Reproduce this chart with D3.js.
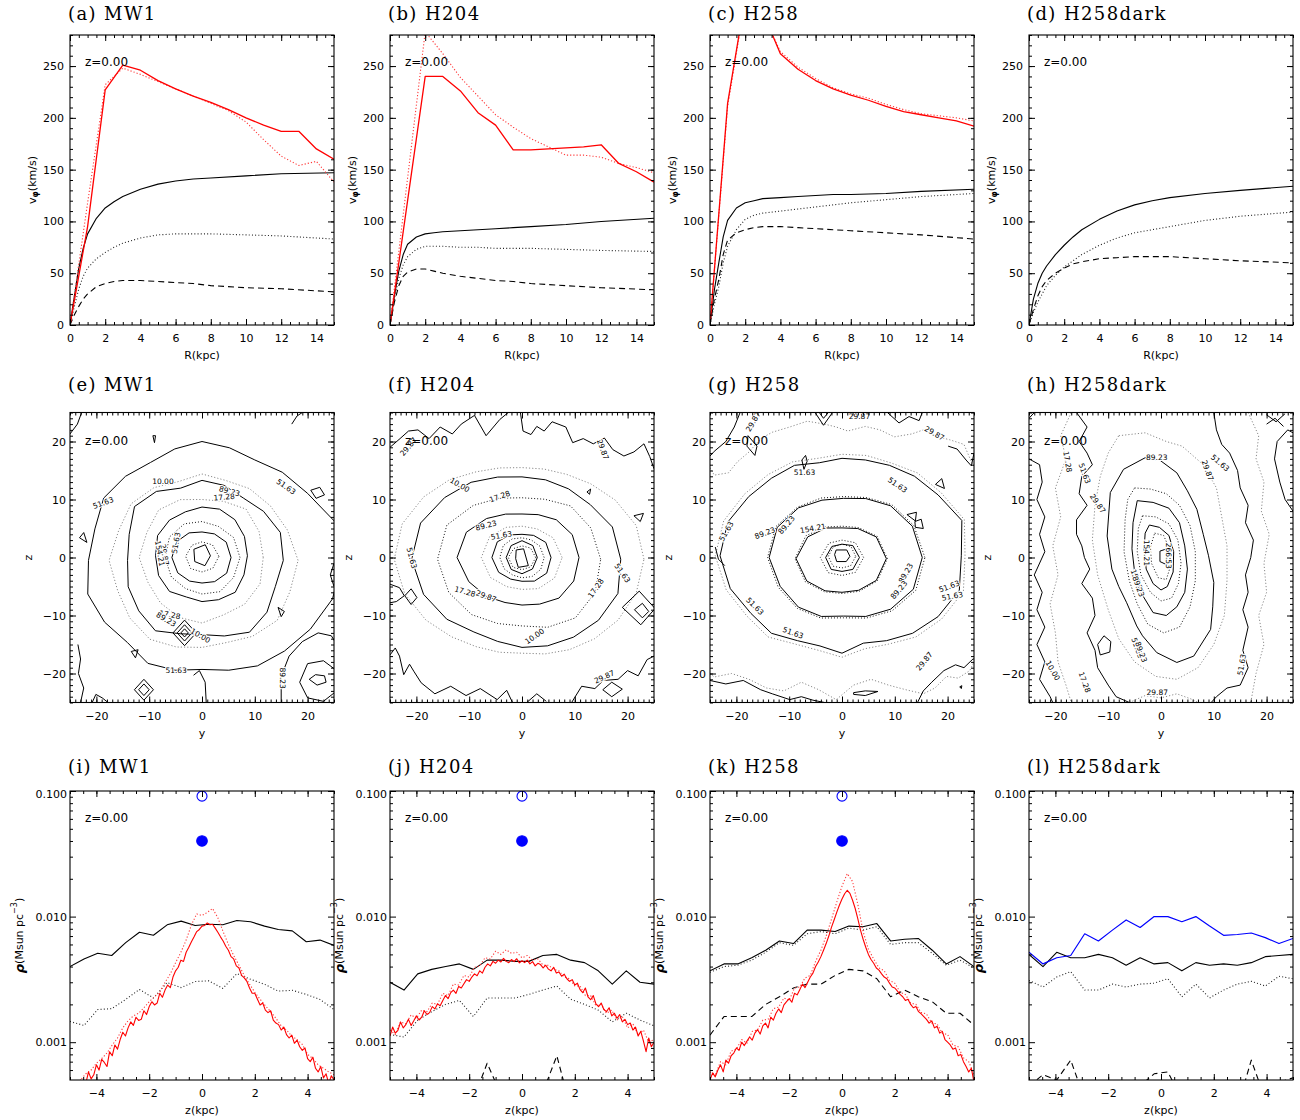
<!DOCTYPE html>
<html><head><meta charset="utf-8"><title>Rotation curves, density maps and vertical profiles</title>
<script src="https://cdn.jsdelivr.net/npm/d3@7"></script>
<style>html,body{margin:0;padding:0;background:#fff}svg{display:block}</style>
</head><body>
<script>
// ================= DATA =================
const panelNames = ["MW1","H204","H258","H258dark"];
const panelLetters = [["a","b","c","d"],["e","f","g","h"],["i","j","k","l"]];
const redshiftLabel = "z=0.00";

// ---- Row 1: rotation curves v_phi(R) ----
const rTickMajor = [0,2,4,6,8,10,12,14];
const vTickMajor = [0,50,100,150,200,250];
const rInt = [0,1,2,3,4,5,6,7,8,9,10,11,12,13,14,15];
const rSmooth = [0,0.25,0.5,0.75,1,1.5,2,2.5,3,4,5,6,7,8,10,12,15];
const vRedSolidMW1 = [0,95,227,251,246,236,228,221,215,208,200,193,187,187,170,160];
const vRedDotMW1   = [0,118,232,248,242,235,228,221,214,207,196,179,163,154,158,138];
const vSolidMW1 = [0,28,55,74,88,103,113,119,124,131,136,139,141,142,144,146,147];
const vDotMW1   = [0,18,35,47,55,64,70,75,79,84,87,88,88,88,87,86,83];
const vDashMW1  = [0,10,18,25,30,37,40,42,43,43,42,41,40,38,36,35,32];
const vRedSolidH204 = [0,120,240,240,226,205,193,169,169,170,171,172,174,156,148,138];
const vRedDotH204   = [0,142,283,262,239,221,203,191,180,172,164,164,162,156,152,147];
const vSolidH204 = [0,28,52,68,78,85,88,89,90,91,92,93,94,95,97,100,103];
const vDotH204   = [0,25,45,58,66,73,76,76,76,75,75,74,74,74,73,72,71];
const vDashH204  = [0,22,38,47,51,54,54,52,50,47,45,43,42,40,38,36,34];
const vRedSolidH258 = [0,214,316,302,262,247,236,228,222,217,211,206,203,200,197,192];
const vRedDotH258   = [0,211,314,300,264,249,238,229,223,219,213,208,204,202,200,197];
const vSolidH258 = [0,34,60,85,101,113,118,120,122,123,124,125,126,126,127,129,131];
const vDotH258   = [0,20,37,60,76,92,102,106,108,110,112,114,116,118,121,124,127];
const vDashH258  = [0,25,44,68,82,89,92,94,95,95,94,93,92,91,89,87,83];
const vSolidDark = [0,25,40,50,57,68,77,85,92,102,110,116,120,123,127,130,134];
const vDotDark   = [0,12,22,30,38,48,56,62,68,77,84,89,92,95,101,105,109];
const vDashDark  = [0,15,28,37,43,50,55,59,61,64,65,66,66,66,64,62,60];

// ---- Row 2: density contours in the y-z plane ----
const yzTickMajor = [-20,-10,0,10,20];
// contour: s = k (solid), d (black dotted), g (grey dotted); c + r = radii at equal angles; pts = vertex list
const contMW1 = [
 {s:"k",c:[0,0.3],r:[1.6,2.0,1.9,1.7,1.8]},
 {s:"d",c:[0,0.2],r:[3.2,2.8,2.5,2.7,3.1,3.0,2.7,2.9]},
 {s:"k",c:[0,0],r:[5.5,5.3,4.7,4.4,4.9,5.5,5.7,5.3,4.7,4.4,4.8,5.4]},
 {s:"d",c:[0,0],r:[7.2,6.9,6.2,6.2,6.7,7.1,7.0,6.7,6.2,6.3,6.8,6.9]},
 {s:"k",c:[0,0.3],r:[8.6,8.7,8.8,8.7,8.4,8.2,8.7,9.1,8.8,8.9,8.7,7.7,7.9,8.2,8.9,8.6]},
 {s:"g",c:[0,0],r:[11.6,11.7,11.8,10.5,10.0,10.8,11.6,11.3,11.9,11.1,11.1,11.2,11.3,10.7,11.4,11.9]},
 {s:"k",c:[0,-0.5],r:[15.4,15.6,14.4,13.3,13.6,13.8,13.1,14.7,15.8,14.5,14.1,14.7,14.8,15.0,13.3,12.8,13.7,15.3,15.2,14.6]},
 {s:"g",c:[0,-0.5],r:[18.2,17.0,16.0,15.3,14.5,14.9,14.3,15.5,16.6,16.6,17.6,16.8,16.9,16.8,15.7,15.0,14.9,16.2,17.6,17.5]},
 {s:"k",c:[0,-0.5],r:[26.5,26.0,23.1,21.5,20.0,20.1,20.5,19.9,19.5,20.5,21.5,21.0,21.5,22.4,21.3,20.0,20.5,19.6,18.8,19.6,21.0,22.1,23.7,25.6]},
 {s:"k",pts:[[-5.5,-13],[-3.3,-10.8],[-1.1,-13],[-3.3,-15.2]],closed:true},
 {s:"k",pts:[[-4.7,-13],[-3.3,-11.6],[-1.9,-13],[-3.3,-14.4]],closed:true},
 {s:"k",pts:[[-4.0,-13],[-3.3,-12.3],[-2.6,-13],[-3.3,-13.7]],closed:true},
 {s:"k",pts:[[-12.8,-22.8],[-11,-21],[-9.2,-22.8],[-11,-24.6]],closed:true},
 {s:"k",pts:[[-12.0,-22.8],[-11,-21.8],[-10,-22.8],[-11,-23.8]],closed:true},
 {s:"k",pts:[[15,-25],[15,-20.5],[16.5,-17],[19,-14.5],[22,-13],[24.5,-13.5],[25.5,-15]]},
 {s:"k",pts:[[18.5,-21.5],[20,-18.3],[23,-17.8],[25.5,-19.5],[25.5,-23],[23,-24.8],[20,-24.2]],closed:true},
 {s:"k",pts:[[20.3,-21],[21.5,-20.2],[23.2,-20.4],[23.5,-21.5],[21.8,-22]],closed:true},
 {s:"k",pts:[[-23.2,3.4],[-21.8,2.6],[-22.4,4.3]],closed:true},
 {s:"k",pts:[[-13.4,-16.2],[-12.1,-15.9],[-12.6,-17.3]],closed:true},
 {s:"k",pts:[[14.4,-8.6],[15.6,-9.3],[15.0,-10.2]],closed:true},
 {s:"k",pts:[[20.6,11.6],[22.3,12.1],[23.2,10.8],[21.6,10.2]],closed:true},
 {s:"k",pts:[[-9.3,21],[-8.8,21],[-9.0,19.8]],closed:true},
 {s:"k",pts:[[-25,21.3],[-23.6,23],[-22.8,25]]},
 {s:"k",pts:[[17,23],[18,24.4],[19,25]]},
 {s:"k",pts:[[-23.5,-15],[-23,-17.5],[-23.4,-20],[-22.4,-22.5],[-23,-25]]},
 {s:"k",pts:[[-20.8,-25],[-20.1,-23.6],[-18.9,-24.2],[-17.8,-25]]},
 {s:"k",pts:[[-1.6,-20.3],[-0.5,-19.5],[0.6,-21.5],[0.8,-25]]},
 {s:"k",pts:[[25,-1],[24.3,-3],[25,-5]]}
];
const labelsMW1 = [["10.00",-7.4,13.1,0],["89.23",5.2,11.4,15],["17.28",4.2,10.4,-5],["51.63",-18.7,9.4,-20],
 ["51.63",15.9,12.2,35],["51.63",-4.9,2.5,-80],["29.87",-7.1,0.5,80],["154.21",-8.0,0.7,80],["17.28",-6.1,-9.9,10],
 ["89.23",-6.8,-10.7,30],["10.00",-0.3,-13.5,30],["51.63",-4.9,-19.4,0],["89.23",15.3,-20.8,90]];

const contH204 = [
 {s:"k",pts:[[-1.1,1.3],[0.3,1.5],[1.2,-1.4],[-0.7,-1.7],[-1.2,-0.2]],closed:true},
 {s:"d",c:[0,0],r:[2.6,2.3,2.0,2.2,2.6,2.4,2.1,2.3]},
 {s:"k",c:[0,0],r:[2.9,2.9,2.9,2.9,3.0,2.9,2.8,2.8]},
 {s:"d",c:[0,0],r:[4.2,3.9,3.5,3.4,3.7,4.1,4.2,3.9,3.5,3.5,3.8,4.1]},
 {s:"k",c:[0,0],r:[5.5,5.2,4.4,4.0,4.5,5.4,5.7,5.1,4.3,4.1,4.7,5.4]},
 {s:"g",c:[0,0],r:[7.6,6.8,5.7,5.4,6.0,7.1,7.7,6.9,5.8,5.5,6.2,7.1]},
 {s:"k",c:[0,0],r:[10.8,10.3,9.2,8.0,7.5,8.1,9.5,11.4,12.3,10.9,9.5,8.4,8.2,8.7,9.9,10.6]},
 {s:"d",c:[0,-0.3],r:[14.9,14.1,13.0,11.2,10.6,11.4,13.1,15.4,16.0,15.0,13.5,12.0,11.5,12.7,14.3,15.0]},
 {s:"k",c:[0,-0.3],r:[18.7,18.0,16.0,15.0,14.4,14.2,14.9,16.4,18.1,20.2,20.9,19.6,17.6,15.5,14.9,15.2,15.7,16.6,17.9,19.1]},
 {s:"g",c:[0,-0.3],r:[23.1,22.4,20.4,18.4,16.9,16.1,15.8,16.3,17.4,19.4,21.5,23.5,24.2,23.0,21.0,18.9,17.4,16.6,16.2,16.9,18.0,19.4,21.0,22.4]},
 {s:"k",pts:[[-25,19],[-23.1,20.5],[-21.5,21.8],[-19.7,22],[-17.6,20.5],[-15.5,22.5],[-13.2,21.3],[-11.5,23],[-9,24.5],[-6.8,21],[-4.2,23.8],[-2.6,25]]},
 {s:"k",pts:[[-0.3,25],[0.2,21.8],[1.7,21.2],[2.8,22.6],[4.2,21.8],[5.7,23.4],[8.3,22.5],[9.6,19.8],[11.6,20.5],[13.5,19.6],[15.6,20.6],[17.2,18.6],[19.3,17.5],[21.2,18.2],[23.1,19.6],[24.2,17.4],[25,15.3]]},
 {s:"k",pts:[[-25,-16.8],[-24,-15.6],[-23.2,-17],[-22.4,-20.2],[-21.3,-18.4],[-20.5,-19.6],[-19.1,-21.6],[-16.5,-23.5],[-13.5,-22.2],[-10.6,-23.8],[-7.9,-22.6],[-4.7,-24.5],[-2.9,-22.9],[-1.8,-25]]},
 {s:"k",pts:[[0.9,-25],[2.8,-23.5],[4.6,-24.8]]},
 {s:"k",pts:[[9.4,-25],[11.3,-22.2],[13.8,-22.6],[15.4,-21.2],[18.2,-21],[20,-19.5],[22,-20.4],[23.7,-17.6],[25,-17]]},
 {s:"k",pts:[[-22.2,-6.6],[-21,-5.4],[-19.9,-6.9],[-21,-8.1]],closed:true},
 {s:"k",pts:[[19,-8.6],[22.2,-5.8],[25.2,-8.8],[22.5,-11.6]],closed:true},
 {s:"k",pts:[[21.3,-9],[22.8,-7.9],[24,-9.3],[22.8,-10.4]],closed:true},
 {s:"k",pts:[[15.3,-22.8],[17,-21.5],[19,-22.7],[17,-24]],closed:true},
 {s:"k",pts:[[-25,-4.6],[-23.2,-5.2],[-22.3,-6.6],[-23.8,-7.6],[-25,-7.8]]},
 {s:"k",pts:[[21.2,7.2],[23,7.6],[22.4,6.2]],closed:true},
 {s:"k",pts:[[12.3,11.3],[13,11.8],[12.8,10.9]],closed:true}
];
const labelsH204 = [["29.87",-21.5,19.1,-50],["29.87",15.3,18.6,70],["10.00",-11.8,12.5,30],["17.28",-4.2,10.5,-20],
 ["89.23",-6.8,5.5,-15],["51.63",-3.9,3.8,-10],["51.63",-20.9,-0.1,75],["29.87",-6.8,-6.7,20],["17.28",-10.8,-5.9,15],
 ["51.63",19,-2.7,55],["17.28",14,-5.3,-55],["10.00",2.4,-13.6,-35],["29.87",15.6,-20.6,-25]];

const contH258 = [
 {s:"k",pts:[[-1.1,1.3],[0.9,1.3],[1.5,0.2],[0.8,-0.7],[-1,-0.7],[-1.4,0.5]],closed:true},
 {s:"d",c:[0,0.2],r:[2.6,2.4,2.1,2.3,2.6,2.4,2.0,2.3]},
 {s:"k",c:[0,0],r:[3.3,2.9,2.3,2.7,3.1,2.9,2.4,2.9]},
 {s:"d",c:[0,0],r:[4.1,3.6,3.0,3.5,4.1,3.7,3.1,3.6]},
 {s:"k",c:[0,-0.2],r:[8.4,7.5,6.0,5.3,6.1,7.5,8.7,7.7,6.4,5.8,6.3,7.5]},
 {s:"d",c:[0,-0.2],r:[8.6,7.7,6.2,5.6,6.3,7.9,8.9,8.0,6.6,6.0,6.5,7.7]},
 {s:"k",c:[0.3,0],r:[14.9,14.1,12.6,11.0,10.2,10.7,12.1,13.6,14.1,13.0,12.1,11.0,10.1,11.0,12.6,14.3]},
 {s:"d",c:[0.3,0],r:[15.4,14.4,12.9,11.2,10.5,11.1,12.3,13.9,14.4,13.4,12.4,11.3,10.4,11.3,13.0,14.8]},
 {s:"k",c:[0,0.3],r:[22.6,23.5,21.0,19.4,18.0,17.1,16.8,16.6,18.0,18.9,20.4,22.4,23.1,21.9,19.9,18.9,16.9,16.1,16.8,15.6,16.9,18.9,21.0,23.0]},
 {s:"g",c:[0,0.3],r:[23.3,24.0,21.7,20.2,18.5,17.9,17.5,17.4,18.7,19.8,21.3,23.2,24.0,22.7,20.8,19.8,17.6,16.9,17.5,16.6,17.6,19.8,21.8,23.8]},
 {s:"g",pts:[[-25,15.5],[-24.2,14.2],[-21.5,14.6],[-19.8,16.5],[-17.6,18.2],[-15.4,20.5],[-13.2,21.6],[-9.9,22.5],[-6.6,23.5],[-3.3,23],[-1.1,22.5],[1.1,21.8],[4.4,22.6],[7.2,22],[9.9,20.8],[13.2,21.3],[15.4,22],[18.2,20.8],[20.4,20.3],[23.1,19.5],[24.5,16.5],[25,15.8]]},
 {s:"g",pts:[[-25,-20],[-24.2,-20.6],[-20.9,-20],[-17.6,-21],[-14.3,-22.5],[-11,-23],[-7.7,-21.5],[-4.4,-22.8],[-1.1,-24.5],[2.2,-22],[5.5,-21],[8.8,-22],[12.1,-22.8],[15.4,-23.5],[17.6,-22.5],[19.8,-20.5],[22,-20.8],[24.2,-19.5],[25,-18]]},
 {s:"k",pts:[[-25,17.5],[-24.2,18.3],[-22,20],[-20.4,22.5],[-19.3,25]]},
 {s:"k",pts:[[-17.8,21],[-16.1,19.2],[-16.5,17.6],[-18,19.2]],closed:true},
 {s:"k",pts:[[-5.1,25],[-3.5,22.8],[-1.8,25]]},
 {s:"k",pts:[[-4.3,25],[-3.5,24],[-2.6,25]]},
 {s:"k",pts:[[8.6,25],[10.8,23.2],[12.7,24.3],[14.6,23.6],[15.2,25]]},
 {s:"k",pts:[[20.1,19.2],[21.8,18.7],[23.5,16.8],[24.5,15.8],[25,18]]},
 {s:"k",pts:[[12.3,7.4],[14.1,7.8],[13.9,6.3]],closed:true},
 {s:"k",pts:[[13.8,6.2],[15,6.6],[15.4,5],[13.9,5.2]],closed:true},
 {s:"k",pts:[[17.7,12.6],[18.9,13.6],[19.4,11.9]],closed:true},
 {s:"k",pts:[[-7.2,15.2],[-7.6,16.8],[-6.9,17.6],[-6.6,16.6]],closed:true},
 {s:"k",pts:[[-25,-21.2],[-22,-21.8],[-18.7,-21.2],[-15.4,-22.8],[-13.2,-23.5],[-9.9,-24.5],[-7.7,-24],[-5.5,-24.6],[-3.3,-25]]},
 {s:"k",pts:[[14.3,-25],[15.4,-23],[17,-21.5],[19.3,-19.5],[21.5,-18.5],[23.1,-19],[24.8,-17.5],[25,-17.5]]},
 {s:"k",pts:[[2.2,-23.3],[4.4,-23],[6.8,-23.1],[4.4,-23.8],[2.2,-23.6]],closed:true},
 {s:"k",pts:[[22.3,-22.3],[22.7,-22.1],[22.6,-22.6]],closed:true},
 {s:"k",pts:[[-24,1.8],[-23.4,-0.3],[-22.2,-1.4]]}
];
const labelsH258 = [["29.87",-16.8,23.4,-60],["29.87",3.3,24.3,0],["29.87",17.5,21.4,30],["51.63",-7.1,14.7,0],
 ["51.63",10.5,12.5,35],["51.63",-21.9,4.5,-60],["89.23",-14.6,4.2,-20],["89.23",-10.5,5.6,-50],["154.21",-5.5,5.0,-10],
 ["89.23",12.1,-2.7,-60],["89.23",10.8,-5.6,-50],["51.63",20.3,-5,-20],["51.63",20.9,-6.7,-10],["51.63",-16.5,-8.4,45],
 ["51.63",-9.3,-13,20],["29.87",15.6,-17.9,-50]];

const contDark = [
 {s:"k",pts:[[-0.2,1.1],[1.1,1.5],[1.2,-1.3],[-0.2,-0.7]],closed:true},
 {s:"d",pts:[[-1.2,4.2],[0.5,3.8],[1.6,1.5],[1.8,-1.5],[1,-3.8],[-0.5,-3.5],[-1.8,-1],[-2,1.8]],closed:true},
 {s:"k",pts:[[-2.2,5.6],[-0.3,5.2],[1.5,3.8],[2.4,1],[2.3,-2.5],[1.2,-5],[0,-5.6],[-1.5,-4.5],[-2.8,-2],[-3.2,1.5],[-3,4.2]],closed:true},
 {s:"d",pts:[[-3.5,7.2],[-1,7],[1.5,5.8],[3.2,3],[3.8,-1],[3.3,-4.5],[2,-7],[0,-7.5],[-2,-6],[-3.8,-3],[-4.5,1],[-4.3,5]],closed:true},
 {s:"k",pts:[[-4.5,9.8],[-1.5,9.5],[1.5,8.5],[3.5,6],[4.5,2],[5,-2],[4.5,-6],[3,-8.5],[1,-10],[-1.5,-9.5],[-3.5,-6.5],[-5,-2.5],[-5.5,1.5],[-5.3,6]],closed:true},
 {s:"d",pts:[[-5,12],[-2,11.8],[1,11],[3.5,9],[5.5,5.5],[6.5,1],[6.5,-4],[5.5,-8.5],[3.5,-12],[0.5,-13],[-2.5,-11.5],[-4.5,-8],[-6,-4],[-7,1],[-6.8,6.5],[-6.3,10]],closed:true},
 {s:"k",pts:[[-3,17.2],[-0.1,16.7],[3,14.6],[5,11.5],[6.8,8.3],[8,4],[9,0.3],[10,-4.3],[9.8,-8.5],[9.4,-12.4],[6.2,-17],[3,-18.1],[-0.8,-16.4],[-3.5,-13.5],[-4.6,-11.8],[-6.5,-7.8],[-8,-5],[-9.3,-2],[-10.2,3.7],[-9.6,11.2],[-7.1,15.2]],closed:true},
 {s:"g",pts:[[-8,21],[-3,21.5],[1,20],[4,19.2],[8,16],[10.5,12],[11.5,7],[12.5,2],[12.5,-4],[12,-10],[10,-15],[7,-19],[3,-21],[-1,-20.5],[-5,-18],[-8,-14],[-10,-9],[-12,-3],[-13,3],[-12.5,9],[-11.5,14],[-10,18]],closed:true},
 {s:"k",pts:[[-16,25],[-14,22.5],[-15.5,20],[-14,18],[-13,16],[-15,14],[-15.5,11],[-14,9],[-16,6.5],[-16,4],[-15,2],[-14.5,0],[-13.5,-2],[-15,-4.5],[-13,-7],[-12.5,-10],[-14,-13],[-12.5,-16],[-12,-19],[-10,-22],[-8.5,-24],[-6,-25]]},
 {s:"k",pts:[[10,25],[10.5,22],[11.5,19.5],[13,18],[14.5,15],[15,12],[16.5,9],[16,6],[17.5,3],[17,0],[16,-3],[16.5,-6],[15.5,-9],[16.5,-12],[15.5,-16],[16.5,-19],[15,-22],[12.5,-22.5],[10.5,-24],[9.5,-25]]},
 {s:"g",pts:[[-17,25],[-19,21],[-18,17],[-20,12],[-19,7],[-20.5,2],[-19.5,-3],[-21,-8],[-20,-13],[-19.5,-18],[-18,-22],[-17,-25]]},
 {s:"g",pts:[[16.5,25],[18.5,21],[18,17],[19.5,13],[19,8],[20.5,4],[19.5,-1],[20,-6],[18.5,-10],[19.5,-15],[18,-20],[17,-25]]},
 {s:"g",pts:[[-6,-25],[-3,-23.8],[0,-24.2],[3,-23.5],[6,-24.5],[7,-25]]},
 {s:"k",pts:[[-25,17],[-23,16],[-22.5,13],[-23.5,10],[-22,7],[-23,4],[-22,1],[-24,-3],[-22.5,-6],[-23.5,-9],[-22,-12],[-23.5,-15],[-22,-18],[-23,-21],[-21,-24],[-20.5,-25]]},
 {s:"k",pts:[[25,8],[23.5,10],[22.5,13],[21.5,17],[22,20],[24,22],[25,21.5]]},
 {s:"k",pts:[[20,24.6],[21.8,23.4],[23.5,24.8]]},
 {s:"k",pts:[[20,23],[21.6,24],[23.2,22.6]]},
 {s:"k",pts:[[-12,-15],[-10.8,-13.5],[-9.5,-14.5],[-9.7,-16.3],[-11.5,-16.8]],closed:true},
 {s:"k",pts:[[-25,24],[-24,25]]}
];
const labelsDark = [["17.28",-17.7,16.5,80],["51.63",-14.5,14.5,70],["29.87",-12,9.3,55],["89.23",-0.8,17.3,0],
 ["29.87",8.8,15,70],["51.63",11.2,16.3,40],["154.21",-2.7,0.8,90],["266.53",1.5,0.3,90],["154.21",-4.5,-4.2,70],
 ["89.23",-4.3,-5,70],["51.63",-4.5,-15.6,70],["89.23",-3.8,-16.3,70],["51.63",15.3,-18.5,-80],["17.28",-14.5,-21.5,70],
 ["10.00",-20.5,-19.5,60],["29.87",-0.7,-23.2,0]];

// ---- Row 3: vertical density profiles (values in units of 1e-3 Msun pc^-3) ----
const zTickMajor = [-4,-2,0,2,4];
const rhoTickMajor = [1,10,100];            // = 0.001, 0.010, 0.100 Msun pc^-3
const zBins = [-5.00,-4.47,-3.95,-3.42,-2.89,-2.37,-1.84,-1.32,-0.79,-0.26,0.26,0.79,1.32,1.84,2.37,2.89,3.42,3.95,4.47,5.00];
const zFine = d3.range(101).map(i => -5 + i * 0.1);
const zCoarse = d3.range(51).map(i => -5 + i * 0.2);
const rhoRedMW1 = [0.38,0.44,0.41,0.39,0.50,0.45,0.47,0.58,0.51,0.55, 0.66,0.60,0.73,0.69,0.64,0.84,0.78,0.95,0.88,1.05,
 1.20,1.12,1.30,1.45,1.36,1.58,1.49,1.52,1.78,1.66, 1.92,2.10,1.98,2.05,2.45,2.28,2.60,2.85,2.72,3.30,
 3.70,3.95,4.50,4.40,5.20,5.70,6.30,6.90,7.60,7.90, 8.40,8.50,8.90,8.60,8.70,8.10,7.50,6.90,6.40,5.80,
 5.40,4.80,4.60,4.05,3.90,3.40,3.25,3.05,2.70,2.45, 2.45,2.20,1.98,2.05,1.80,1.72,1.78,1.50,1.42,1.38,
 1.25,1.32,1.15,1.08,1.14,0.98,1.04,0.92,0.86,0.90, 0.74,0.70,0.76,0.62,0.58,0.64,0.52,0.56,0.47,0.54, 0.50];
const rhoRedDotMW1 = [0.46,0.44,0.50,0.56,0.60,0.68,0.74,0.82,0.95,1.08, 1.30,1.48,1.62,1.70,1.88,2.10,2.30,2.50,3.00,3.50,
 4.30,5.20,6.50,8.60,10.5,10.2,10.8,11.6,9.80,7.60, 6.00,4.90,4.10,3.40,2.90,2.50,2.20,1.95,1.75,1.55,
 1.35,1.25,1.12,1.05,0.96,0.80,0.74,0.66,0.62,0.58, 0.55];
const rhoSolidMW1 = [4.0,4.6,5.1,4.9,6.2,7.5,7.1,8.6,9.2,8.5,8.7,8.6,9.3,9.1,8.4,7.9,7.7,6.3,6.5,5.9];
const rhoDotMW1 = [1.46,1.36,1.82,1.85,2.19,2.63,2.25,2.98,2.72,3.04,3.08,2.68,3.52,3.17,2.89,2.55,2.59,2.40,2.19,1.82];

const rhoRedH204 = [1.12,1.32,1.18,1.24,1.45,1.30,1.38,1.52,1.36,1.48, 1.62,1.50,1.58,1.78,1.66,1.72,1.92,1.84,2.02,1.95,
 2.15,2.35,2.22,2.48,2.60,2.45,2.78,2.70,2.92,3.15, 3.05,3.30,3.50,3.38,3.70,3.55,3.95,4.20,4.05,4.40,
 4.25,4.50,4.35,4.65,4.40,4.30,4.55,4.38,4.62,4.28, 4.45,4.30,4.50,4.20,4.38,4.05,4.25,4.15,3.90,4.10,
 3.82,3.70,3.95,3.55,3.62,3.35,3.48,3.20,3.05,3.15, 2.85,2.95,2.62,2.48,2.70,2.30,2.18,2.35,2.02,1.92,
 2.05,1.82,1.75,1.88,1.62,1.70,1.55,1.66,1.45,1.52, 1.38,1.42,1.25,1.32,1.12,1.22,1.02,0.84,1.08,0.92, 1.00];
const rhoRedDotH204 = [1.25,1.15,1.45,1.40,1.65,1.55,1.80,1.75,2.05,2.00, 2.45,2.35,2.90,2.85,3.40,3.30,3.95,4.05,4.70,4.60,
 5.30,5.00,5.45,5.10,5.20,4.70,4.90,4.50,4.60,4.10, 4.10,3.80,3.70,3.30,3.20,2.80,2.80,2.35,2.35,1.95,
 2.00,1.70,1.80,1.50,1.60,1.30,1.40,1.15,1.25,1.00, 1.05];
const rhoSolidH204 = [3.0,2.6,3.5,3.8,4.0,4.2,3.8,4.5,4.5,4.4,4.4,4.9,5.0,4.5,4.3,3.7,2.9,3.7,3.0,2.9];
const rhoDotH204 = [1.15,1.10,1.50,1.75,2.00,2.15,1.60,2.25,2.25,2.25,2.40,2.60,2.80,2.20,2.00,1.80,1.45,1.70,1.50,1.35];
const rhoDashH204 = [0.2,0.2,0.2,0.2,0.2,0.25,0.35,0.68,0.38,0.48,0.3,0.4,0.78,0.3,0.2,0.2,0.2,0.2,0.2,0.2];

const rhoRedH258 = [0.50,0.57,0.53,0.60,0.66,0.58,0.72,0.68,0.78,0.82, 0.90,0.86,1.00,0.94,1.02,1.10,1.04,1.18,1.26,1.16,
 1.35,1.42,1.30,1.58,1.50,1.70,1.84,1.72,1.98,2.10, 2.22,2.08,2.45,2.38,2.62,2.90,2.72,3.00,3.30,3.55,
 4.00,4.35,4.80,5.40,6.10,7.00,8.20,9.40,10.8,12.3, 13.8,15.2,16.2,15.3,13.5,11.6,9.60,7.80,6.60,5.70,
 5.00,4.55,4.25,3.90,3.75,3.50,3.30,3.20,2.95,2.75, 2.70,2.55,2.40,2.30,2.15,2.20,2.00,1.88,1.92,1.75,
 1.68,1.60,1.52,1.42,1.48,1.30,1.34,1.18,1.22,1.05, 1.00,0.95,0.88,0.90,0.78,0.80,0.70,0.64,0.58,0.62, 0.48];
const rhoRedDotH258 = [0.58,0.55,0.70,0.66,0.85,0.88,1.05,0.98,1.22,1.25, 1.50,1.52,1.85,1.90,2.25,2.15,2.70,2.75,3.25,3.40,
 4.40,5.40,7.00,9.50,13.0,17.5,22.0,19.0,12.5,7.60, 5.50,4.60,3.90,3.70,3.10,2.95,2.50,2.40,2.05,2.00,
 1.72,1.68,1.42,1.40,1.18,1.15,0.95,0.92,0.75,0.70, 0.55];
const rhoSolidH258 = [3.7,4.2,4.2,4.7,5.4,6.4,6.1,7.8,7.8,7.6,8.4,8.3,8.8,6.4,6.6,6.7,5.4,4.2,4.8,4.0];
const rhoDotH258 = [3.6,4.0,4.1,4.5,5.2,6.2,5.9,7.3,7.6,7.3,8.1,7.8,8.3,6.0,6.2,6.2,5.1,4.1,4.5,3.9];
const rhoDashH258 = [1.14,1.6,1.6,1.6,2.0,2.3,2.7,2.9,2.9,3.4,3.8,3.7,3.2,2.3,2.6,2.3,2.1,1.7,1.7,1.37];

const rhoBlueDark = [5.2,4.2,4.7,4.9,7.3,6.4,7.8,9.4,8.2,10.0,10.0,9.1,10.0,8.4,7.1,7.2,7.4,6.8,6.1,6.7];
const rhoSolidDark = [5.0,4.0,5.2,4.7,4.7,5.0,4.7,4.1,4.7,4.2,4.3,3.7,4.3,4.1,4.2,4.1,4.3,4.8,4.9,5.0];
const rhoDotDark = [3.1,2.75,3.3,3.65,2.6,2.6,2.9,2.75,2.9,2.95,3.2,2.3,2.9,2.25,2.6,2.9,3.05,2.8,3.35,3.2];
const rhoDashDark = [0.45,0.55,0.5,0.72,0.35,0.3,0.3,0.35,0.45,0.56,0.58,0.35,0.3,0.3,0.3,0.3,0.72,0.35,0.48,0.52];

const markerZ = [0, 0];
const markerRho = [91, 40];          // open circle, filled circle
const markerFilled = [false, true];

// ================= LAYOUT / STYLE =================
const FONT = '"DejaVu Sans", "Liberation Sans", sans-serif';
const SERIF = '"DejaVu Serif", "Liberation Serif", serif';
const colX = [70, 390, 710, 1029], PW = 264;
const rowY = [35, 412.5, 791], PH = [290, 290, 289];
const titleY = [20, 391, 773];

const STY = {
  k:   {stroke:"#000", w:1.1, dash:null},
  d:   {stroke:"#222", w:1.1, dash:"1,2.2"},
  dash:{stroke:"#000", w:1.1, dash:"6,4"},
  r:   {stroke:"#ff0000", w:1.3, dash:null},
  rd:  {stroke:"#ff3a3a", w:1.1, dash:"1.2,2"},
  b:   {stroke:"#0000ff", w:1.2, dash:null},
  gk:  {stroke:"#000", w:1, dash:null},
  gd:  {stroke:"#111", w:1, dash:"1,2"},
  gg:  {stroke:"#8a8a8a", w:1, dash:"1.2,2"}
};

const svg = d3.select("body").append("svg").attr("width",1300).attr("height",1120).attr("font-family",FONT);
let clipN = 0;

function panel(col,row){
  const g = svg.append("g").attr("transform",`translate(${colX[col]},${rowY[row]})`);
  const id = "clip" + (clipN++);
  g.append("clipPath").attr("id",id).append("rect").attr("width",PW).attr("height",PH[row]);
  const plot = g.append("g").attr("clip-path",`url(#${id})`);
  return {g, plot, w:PW, h:PH[row]};
}

function drawLine(plot, x, y, xs, ys, sty){
  const line = d3.line().x(d=>x(d[0])).y(d=>y(d[1]));
  const p = plot.append("path").datum(d3.zip(xs, ys)).attr("d", line)
    .attr("fill","none").attr("stroke",sty.stroke).attr("stroke-width",sty.w)
    .attr("stroke-linejoin","round");
  if (sty.dash) p.attr("stroke-dasharray", sty.dash);
}

function axes(P, x, y, o){
  const {g,w,h} = P;
  const add = (axis, tr) => {
    const a = g.append("g").attr("transform", tr).call(axis);
    a.select(".domain").remove();
    a.selectAll("line").attr("stroke","#000").attr("stroke-width",1);
    a.selectAll("text").attr("font-family",FONT).attr("font-size",11).attr("fill","#000");
    return a;
  };
  add(d3.axisBottom(x).tickValues(o.xMajor).tickSize(-6).tickPadding(o.xPad).tickFormat(o.xFmt||null), `translate(0,${h})`);
  add(d3.axisBottom(x).tickValues(o.xMinor).tickSize(-3).tickFormat(""), `translate(0,${h})`);
  add(d3.axisTop(x).tickValues(o.xMajor).tickSize(-6).tickFormat(""), "translate(0,0)");
  add(d3.axisTop(x).tickValues(o.xMinor).tickSize(-3).tickFormat(""), "translate(0,0)");
  const yl = add(d3.axisLeft(y).tickValues(o.yMajor).tickSize(-6).tickPadding(o.yPad).tickFormat(o.yFmt||null), "translate(0,0)");
  add(d3.axisLeft(y).tickValues(o.yMinor).tickSize(-3).tickFormat(""), "translate(0,0)");
  add(d3.axisRight(y).tickValues(o.yMajor).tickSize(-6).tickFormat(""), `translate(${w},0)`);
  add(d3.axisRight(y).tickValues(o.yMinor).tickSize(-3).tickFormat(""), `translate(${w},0)`);
  g.append("rect").attr("width",w).attr("height",h).attr("fill","none").attr("stroke","#000").attr("stroke-width",1.1);
  return yl;
}

function titles(P, col, row, xlab, ylabFn, ylabDx){
  const x0 = colX[col];
  svg.append("text").attr("x", x0 - 2).attr("y", titleY[row]).attr("font-family",SERIF).attr("font-size",18)
    .attr("letter-spacing","1.4px").attr("fill","#000").text(`(${panelLetters[row][col]}) ${panelNames[col]}`);
  P.g.append("text").attr("x",15).attr("y",31 + (row===1?1:0)).attr("font-size",12).attr("fill","#000").text(redshiftLabel);
  P.g.append("text").attr("x",P.w/2).attr("y",P.h + 34).attr("text-anchor","middle").attr("font-size",11).text(xlab);
  const yl = P.g.append("text").attr("transform",`translate(${-ylabDx},${P.h/2}) rotate(-90)`)
    .attr("text-anchor","middle").attr("dominant-baseline","central").attr("font-size",11);
  ylabFn(yl);
}

// ================= ROW 1 =================
const row1 = [
  {red:[vRedSolidMW1,vRedDotMW1], blk:[vSolidMW1,vDotMW1,vDashMW1]},
  {red:[vRedSolidH204,vRedDotH204], blk:[vSolidH204,vDotH204,vDashH204]},
  {red:[vRedSolidH258,vRedDotH258], blk:[vSolidH258,vDotH258,vDashH258]},
  {red:null, blk:[vSolidDark,vDotDark,vDashDark]}
];
row1.forEach((spec,col)=>{
  const P = panel(col,0);
  const x = d3.scaleLinear().domain([0,15]).range([0,P.w]);
  const y = d3.scaleLinear().domain([0,280]).range([P.h,0]);
  drawLine(P.plot,x,y,rSmooth,spec.blk[2],STY.dash);
  drawLine(P.plot,x,y,rSmooth,spec.blk[1],STY.d);
  drawLine(P.plot,x,y,rSmooth,spec.blk[0],STY.k);
  if (spec.red){
    drawLine(P.plot,x,y,rInt,spec.red[1],STY.rd);
    drawLine(P.plot,x,y,rInt,spec.red[0],STY.r);
  }
  axes(P,x,y,{xMajor:rTickMajor, xMinor:d3.range(0,15.01,0.5), xPad:9,
              yMajor:vTickMajor, yMinor:d3.range(0,281,10), yPad:6});
  titles(P,col,0,"R(kpc)", t=>{
    t.append("tspan").text("v");
    t.append("tspan").attr("font-size",8).attr("font-weight","bold").attr("dy",3).text("φ");
    t.append("tspan").attr("dy",-3).text("(km/s)");
  }, 38);
});

// ================= ROW 2 =================
const row2 = [[contMW1,labelsMW1],[contH204,labelsH204],[contH258,labelsH258],[contDark,labelsDark]];
row2.forEach(([conts,labs],col)=>{
  const P = panel(col,1);
  const x = d3.scaleLinear().domain([-25,25]).range([0,P.w]);
  const y = d3.scaleLinear().domain([-25,25]).range([P.h,0]);
  conts.forEach(ct=>{
    let pts, closed;
    if (ct.pts){ pts = ct.pts; closed = !!ct.closed; }
    else {
      const n = ct.r.length;
      pts = ct.r.map((r,k)=>[ct.c[0] + r*Math.cos(2*Math.PI*k/n), ct.c[1] + r*Math.sin(2*Math.PI*k/n)]);
      closed = true;
    }
    const line = d3.line().x(d=>x(d[0])).y(d=>y(d[1])).curve(closed ? d3.curveLinearClosed : d3.curveLinear);
    const sty = ct.s==="k" ? STY.gk : ct.s==="d" ? STY.gd : STY.gg;
    const p = P.plot.append("path").attr("d", line(pts)).attr("fill","none")
      .attr("stroke",sty.stroke).attr("stroke-width",sty.w).attr("stroke-linejoin","round");
    if (sty.dash) p.attr("stroke-dasharray",sty.dash);
  });
  P.plot.selectAll("text.lab").data(labs).join("text").attr("class","lab")
    .attr("transform",d=>`translate(${x(d[1])},${y(d[2])}) rotate(${d[3]})`)
    .attr("text-anchor","middle").attr("dominant-baseline","central")
    .attr("font-size",7.5).attr("fill","#000")
    .attr("stroke","#fff").attr("stroke-width",2.2).attr("paint-order","stroke")
    .text(d=>d[0]);
  axes(P,x,y,{xMajor:yzTickMajor, xMinor:d3.range(-25,25.01,1), xPad:10,
              yMajor:yzTickMajor, yMinor:d3.range(-25,25.01,1), yPad:4});
  titles(P,col,1,"y", t=>t.text("z"), 42);
});

// ================= ROW 3 =================
const row3 = [
  {red:[rhoRedMW1,rhoRedDotMW1], blk:[rhoSolidMW1,rhoDotMW1,null], blue:null, markers:true},
  {red:[rhoRedH204,rhoRedDotH204], blk:[rhoSolidH204,rhoDotH204,rhoDashH204], blue:null, markers:true},
  {red:[rhoRedH258,rhoRedDotH258], blk:[rhoSolidH258,rhoDotH258,rhoDashH258], blue:null, markers:true},
  {red:null, blk:[rhoSolidDark,rhoDotDark,rhoDashDark], blue:rhoBlueDark, markers:false}
];
const rhoMinor = [0.6,0.7,0.8,0.9,2,3,4,5,6,7,8,9,20,30,40,50,60,70,80,90];
row3.forEach((spec,col)=>{
  const P = panel(col,2);
  const x = d3.scaleLinear().domain([-5,5]).range([0,P.w]);
  const y = d3.scaleLog().domain([0.5,100]).range([P.h,0]);
  if (spec.blk[2]) drawLine(P.plot,x,y,zBins,spec.blk[2],STY.dash);
  drawLine(P.plot,x,y,zBins,spec.blk[1],STY.d);
  drawLine(P.plot,x,y,zBins,spec.blk[0],STY.k);
  if (spec.red){
    drawLine(P.plot,x,y,zCoarse,spec.red[1],STY.rd);
    drawLine(P.plot,x,y,zFine,spec.red[0],{stroke:"#ff0000",w:1.1,dash:null});
  }
  if (spec.blue) drawLine(P.plot,x,y,zBins,spec.blue,STY.b);
  if (spec.markers){
    P.plot.selectAll("circle.m").data(d3.zip(markerZ,markerRho,markerFilled)).join("circle").attr("class","m")
      .attr("cx",d=>x(d[0])).attr("cy",d=>y(d[1])).attr("r",d=>d[2]?5.3:5)
      .attr("fill",d=>d[2]?"#0000ff":"none").attr("stroke","#0000ff").attr("stroke-width",1.1);
  }
  const yl = axes(P,x,y,{xMajor:zTickMajor, xMinor:d3.range(-5,5.01,0.5), xPad:9,
              yMajor:rhoTickMajor, yMinor:rhoMinor, yPad:3, yFmt:d=>(d/1000).toFixed(3)});
  yl.selectAll("text").filter(d=>d===100).attr("dy","0.62em");
  titles(P,col,2,"z(kpc)", t=>{
    t.append("tspan").attr("font-style","italic").attr("font-weight","bold").attr("font-size",13).text("ρ");
    t.append("tspan").text("(Msun pc");
    t.append("tspan").attr("font-size",8).attr("dy",-5).text("−3");
    t.append("tspan").attr("dy",5).text(")");
  }, 51);
});
</script>
</body></html>
